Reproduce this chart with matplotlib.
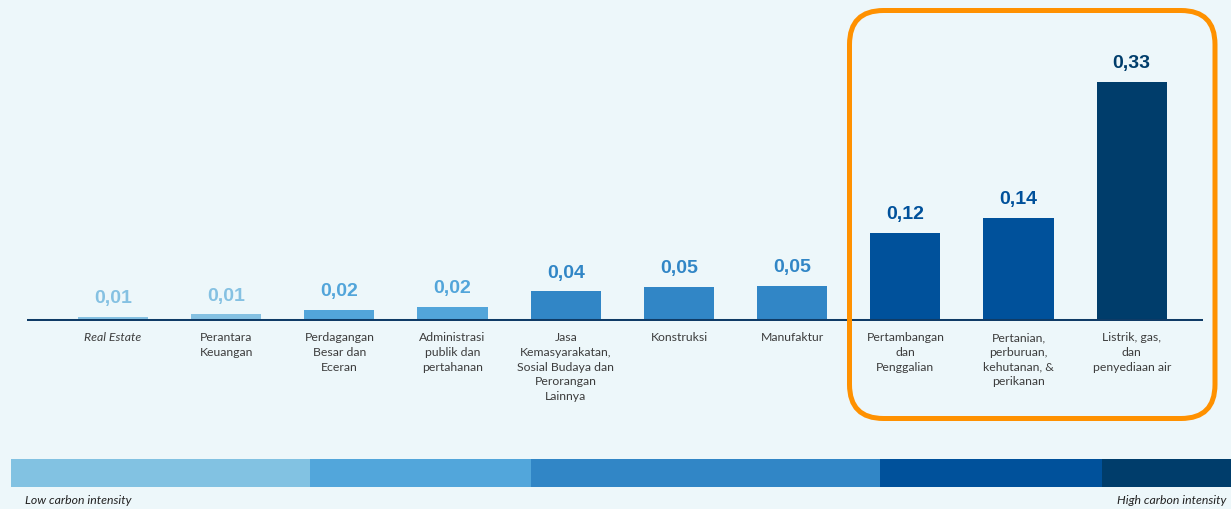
import matplotlib.pyplot as plt
from matplotlib.patches import FancyBboxPatch, Rectangle

# data
sektor = [
    "Real Estate",
    "Perantara\nKeuangan",
    "Perdagangan\nBesar dan\nEceran",
    "Administrasi\npublik dan\npertahanan",
    "Jasa\nKemasyarakatan,\nSosial Budaya dan\nPerorangan\nLainnya",
    "Konstruksi",
    "Manufaktur",
    "Pertambangan\ndan\nPenggalian",
    "Pertanian,\nperburuan,\nkehutanan, &\nperikanan",
    "Listrik, gas,\ndan\npenyediaan air",
]
intensitas = [0.006, 0.009, 0.015, 0.020, 0.041, 0.047, 0.049, 0.122, 0.142, 0.33]
label_nilai = ["0,01", "0,01", "0,02", "0,02", "0,04", "0,05", "0,05", "0,12", "0,14", "0,33"]

# style
BG = "#edf7fa"
NAVY = "#0f3b66"
warna = ["#85c1e2", "#85c1e2", "#52a5da", "#52a5da", "#3186c6",
         "#3186c6", "#3186c6", "#00519b", "#00519b", "#003d6b"]
strip = [(11, 310, "#82c2e2"), (310, 531, "#52a6db"), (531, 880, "#3186c6"),
         (880, 1102, "#00519b"), (1102, 1231, "#003d6b")]

W, H = 1231, 509
fig = plt.figure(figsize=(W / 100, H / 100), dpi=100, facecolor=BG)

# main bar axes, laid out in pixel terms
ax = fig.add_axes([27 / W, (H - 321) / H, 1176 / W, 261 / H])
ax.set_facecolor("none")
x = list(range(len(sektor)))
bars = ax.bar(x, intensitas, width=0.62, color=warna, zorder=2)
ax.axhline(0, color=NAVY, lw=2.9, zorder=3)
ax.set_xlim(-0.76, 9.63)
ax.set_ylim(0, 0.3605)
for s in ax.spines.values():
    s.set_visible(False)
ax.set_yticks([])
ax.set_xticks(x)
ax.set_xticklabels(sektor, fontfamily="Lato", fontsize=8.8, color="#3d3d3d",
                   linespacing=1.42, multialignment="center")
ax.get_xticklabels()[0].set_style("italic")
ax.tick_params(axis="x", length=0, pad=8)

teks = ax.bar_label(bars, labels=label_nilai, padding=7, fontsize=14,
                    fontweight="bold", fontfamily="Liberation Sans")
for t, c in zip(teks, warna):
    t.set_color(c)

# overlay in pixel coords for the highlight box and the intensity strip
ov = fig.add_axes([0, 0, 1, 1], zorder=5)
ov.set_xlim(0, W)
ov.set_ylim(H, 0)
ov.axis("off")
ov.patch.set_alpha(0)

ov.add_patch(FancyBboxPatch((849.5, 10.5), 365.5, 408,
                            boxstyle="round,pad=0,rounding_size=34",
                            lw=3.6, ec="#ff9100", fc="none"))

for x0, x1, c in strip:
    ov.add_patch(Rectangle((x0, 459), x1 - x0, 28, color=c, lw=0))

ov.text(25, 501, "Low carbon intensity", fontsize=8.8, style="italic",
        color="#222222", fontfamily="Lato", va="center", ha="left")
ov.text(1226, 501, "High carbon intensity", fontsize=8.8, style="italic",
        color="#222222", fontfamily="Lato", va="center", ha="right")

fig.savefig("out.png", dpi=100, facecolor=BG)
